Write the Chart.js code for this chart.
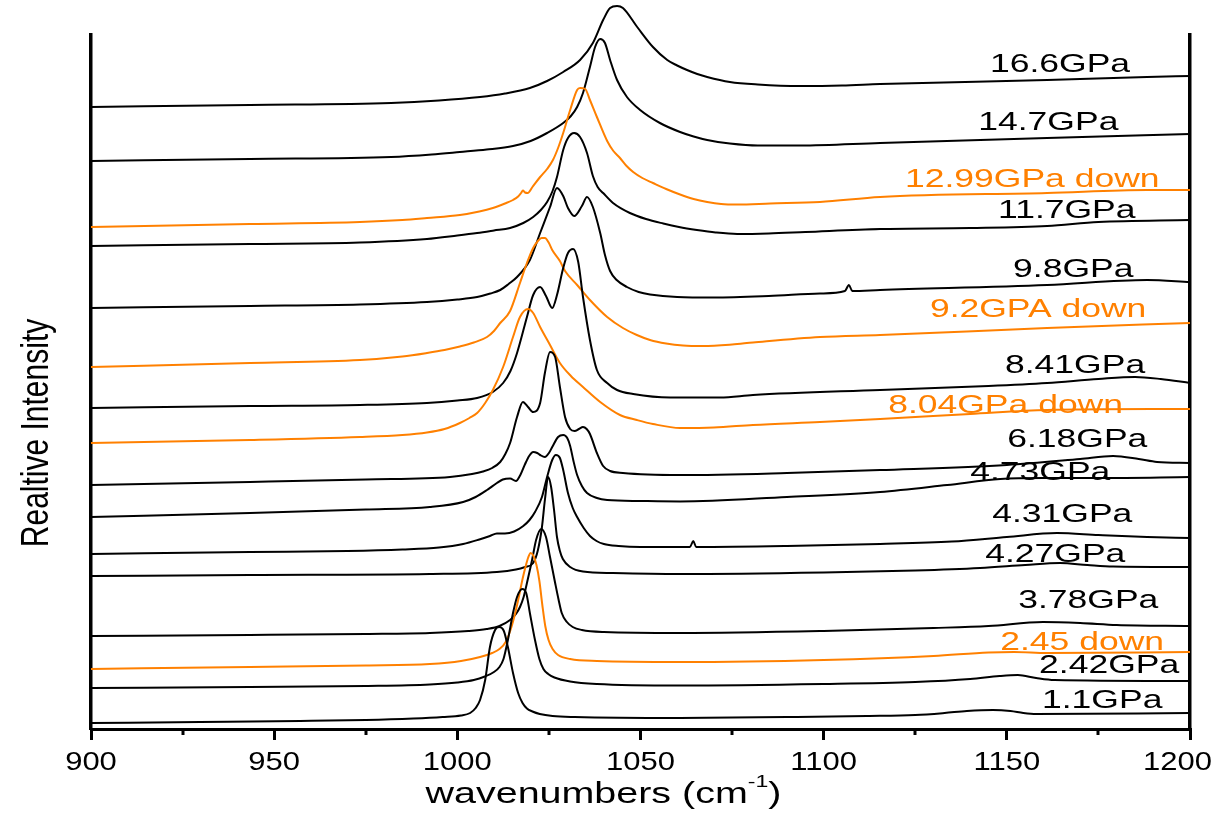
<!DOCTYPE html>
<html>
<head>
<meta charset="utf-8">
<script src="https://cdn.jsdelivr.net/npm/chart.js@4.4.0/dist/chart.umd.min.js"></script>
<style>
  html, body { margin: 0; padding: 0; background: #ffffff; }
  canvas { display: block; }
</style>
</head>
<body>
<canvas id="chart" width="1230" height="814"></canvas>
<script>
// Raman spectra recorded at increasing / decreasing pressure, stacked with offsets.
// Each point: [wavenumber (cm^-1), relative intensity (a.u., offset included)]
const s1_1 = [[900,6],[929.8,7],[957.1,8],[975,9],[988,10.5],[996,12],[1001,13.5],[1003.5,16],[1005,21],[1006.2,29],[1007.6,49],[1008.9,82],[1010.3,99],[1011.4,102],[1012.7,98],[1013.8,82],[1015.2,56],[1016.6,36],[1017.8,26],[1019,20.5],[1020.5,17.5],[1022.5,15],[1026,13],[1032,12],[1060.8,11],[1090,12],[1111.8,13],[1125,14],[1133,16],[1139.1,18],[1146.2,19],[1151,18],[1154.5,16],[1158,15],[1200,16]];
const s2_42 = [[900,41],[943.4,42],[975,43],[992.5,44.5],[1000,46.5],[1004.5,49],[1007.5,52.5],[1010,57],[1011.5,62],[1012.6,70],[1013.8,89],[1015.2,116],[1016.3,132],[1017.7,140],[1018.8,136],[1019.8,116],[1021.2,89],[1022.4,70],[1023.5,60],[1024.8,55],[1026.5,51.5],[1030.8,47.5],[1038.1,45],[1060.8,43.5],[1100,45],[1125,47],[1140,50],[1148,53],[1153,54],[1158,51],[1163,49],[1200,48]];
const s2_45d = [[900,60],[943.4,62],[975,63.5],[992.5,65],[1001,68],[1006.2,72],[1009.5,76],[1011.5,80],[1013.2,87],[1014.6,100],[1015.8,116],[1016.9,134],[1017.8,150],[1018.6,162],[1019.3,171],[1020.0,176],[1020.8,173],[1021.6,164],[1022.4,148],[1023.2,124],[1024.0,103],[1024.9,89],[1026,80],[1027.5,74],[1030.8,70],[1038.1,68],[1060.8,67],[1100,69],[1130,73],[1145,76.5],[1152,77],[1161.0,76],[1200,77]];
const s3_78 = [[900,93],[943.4,94],[975,95],[992.5,96],[1003,98],[1008,100],[1011.5,103],[1014.4,109],[1016,115],[1017.1,122],[1018.1,132],[1019.0,146],[1020.4,169],[1021.5,189],[1022.9,200],[1024.2,192],[1025.3,172],[1026.7,146],[1027.6,130],[1028.5,116],[1029.9,107],[1031.5,102],[1034,99],[1040,97],[1060.8,96],[1100,98],[1130,101],[1145,103],[1159.9,107],[1170,106],[1180,104],[1200,103]];
const s4_27 = [[900,153],[943.4,154],[992.5,155],[1010.8,157],[1016,159.5],[1018.5,162],[1020.7,166],[1022.0,179],[1023.1,202],[1023.9,229],[1024.8,252],[1025.6,242],[1026.4,219],[1027.2,192],[1028.0,178],[1028.8,170],[1030.8,162],[1034.3,157.5],[1042.5,156],[1060.8,155],[1100,156.5],[1125,158.5],[1142.7,161],[1155,164],[1164.5,166],[1172,164],[1179.0,162.5],[1200,162]];
const s4_31 = [[900,175],[943.4,177],[970,178],[985,179.5],[995,181.5],[1001.6,185],[1006,189.5],[1008.9,193],[1010.8,195.5],[1013.0,195.5],[1015.5,197.5],[1018,203],[1019.7,209],[1021.2,217],[1023.1,232],[1024.5,252],[1025.9,269],[1026.9,274],[1028.0,271],[1028.9,259],[1030.2,236],[1031.5,221],[1032.7,212],[1034.5,201],[1036.2,193],[1038,188],[1040,185],[1044,183],[1050,182],[1063.5,182],[1064.4,188],[1065.2,182],[1090,183],[1115.4,185],[1135,187.5],[1150,192],[1163.7,196],[1175,194],[1188.3,192],[1200,191]];
const s4_73 = [[900,212],[943.4,216],[975,219.5],[992.5,222],[1001.6,227],[1005,232],[1008.1,239],[1010.8,246],[1012.4,249.5],[1014.4,250.5],[1016.0,248],[1017.2,254],[1018.5,265],[1019.6,273],[1020.7,277],[1021.8,276],[1022.6,274],[1023.9,272],[1025.0,276],[1025.9,282],[1027.5,292],[1028.9,294],[1030.0,291],[1030.8,283],[1031.7,268],[1032.7,254],[1034.0,243],[1035.4,236],[1038.1,231],[1040.9,229],[1050,228],[1060.8,227.5],[1090,232],[1115.4,237],[1133.7,244],[1148.2,250],[1160,251],[1175.5,251],[1200,252]];
const s6_18 = [[900,244],[943.4,247],[975,249.5],[998.0,252],[1004,255],[1007.0,257.5],[1009.5,261],[1011.7,267],[1013.1,275],[1014.4,286],[1016.3,312],[1017.9,327],[1019.3,322],[1020.7,317],[1022.6,326],[1023.9,356],[1025.3,377],[1026.7,372],[1028.0,342],[1029.4,312],[1030.8,300],[1032.0,298],[1033.2,300],[1034.3,302],[1035.3,300],[1036.2,295],[1038.1,276],[1039.8,263],[1041.7,258],[1045.2,256],[1060.8,254],[1090,256],[1115.4,259],[1150,264],[1170.0,270],[1179.0,273],[1186,270],[1191.0,267],[1200,266]];
const s8_04d = [[900,286],[943.4,289],[973.4,292],[985,294],[991.7,296.5],[996.5,300],[1000.7,306],[1003.3,311],[1005.4,316],[1007.6,326],[1009.7,339],[1012.5,362],[1015.2,392],[1017.1,412],[1019.3,420],[1020.7,416],[1022.6,402],[1025.3,384],[1028.0,366],[1031,353],[1034.3,342],[1039.0,327],[1044.4,314],[1049,309],[1053.4,305],[1060.8,301],[1070,301.5],[1080.7,304],[1099.0,307],[1115.4,310],[1140,315],[1161.0,319],[1200,320]];
const s8_41 = [[900,321],[943.4,323],[973.4,324],[991.7,326],[1000,328.5],[1005.4,331],[1009.7,337],[1012.5,346],[1014.5,358],[1016.3,376],[1019.0,412],[1020.7,434],[1022.6,442],[1024.2,433],[1025.9,421],[1027.2,434],[1028.9,461],[1030.2,476],[1031.6,480],[1033.0,467],[1034.3,432],[1036.2,389],[1038.1,359],[1040.9,346],[1043.6,339],[1048,335],[1058.1,331.5],[1071.7,331.5],[1080.7,334],[1115.4,339],[1145,343],[1161.0,346],[1175,350],[1185,352],[1192,350],[1200,346]];
const s9_2d = [[900,362],[943.4,366],[973.4,369],[985,372.5],[991.7,376],[996.5,379],[1000.7,382.5],[1004.5,386.5],[1008.1,392],[1010,398],[1011.7,406],[1014.4,418],[1017.1,446],[1019.0,466],[1020.7,481],[1022.0,488],[1023.0,491],[1023.9,491],[1025.0,486],[1025.9,479],[1028.0,468],[1029.4,458],[1032.7,444],[1036.2,429],[1040.9,412],[1045.2,401],[1049,394],[1052.6,389],[1057,385.5],[1061.6,383.5],[1067.1,383],[1075,384.5],[1080.7,386.5],[1099.0,392],[1115.4,394],[1161.0,401],[1200,406]];
const s9_8 = [[900,421],[943.4,423],[973.4,424.5],[991.7,427],[1000,429.5],[1005.4,432],[1009,435.5],[1011.7,439],[1014,445],[1016.3,452],[1019.8,469],[1022.6,496],[1025.3,522],[1027.2,541],[1028.9,533],[1030.2,521],[1031.9,513],[1034.0,523],[1035.4,532],[1037.0,522],[1039.0,496],[1040.3,474],[1041.7,458],[1043.5,449],[1046.3,442],[1049.5,437],[1052.6,434.5],[1060,432],[1070,431.5],[1085,433],[1099.0,435.5],[1105.8,438],[1106.9,444],[1107.8,438],[1115.4,439],[1161.0,444],[1188.3,449],[1200,447]];
const s11_7 = [[900,483],[943.4,485],[973.4,486.5],[991.7,490],[1000,493.5],[1005.4,496],[1010,498.5],[1014.4,501],[1018,506],[1020.7,512],[1022.8,519],[1024.5,527],[1026,538],[1027.2,552],[1028.9,579],[1030.2,591],[1031.9,596],[1033.5,592],[1035.4,576],[1037.0,553],[1038.3,542],[1039.8,536],[1042.5,526],[1047.1,516],[1051.5,510],[1056.2,505.5],[1060.5,502],[1065.4,499],[1070.5,496.5],[1076.4,495],[1085,495.5],[1095,497],[1115.4,500],[1140,501],[1161.0,503],[1175,507],[1200,509]];
const s12_99d = [[900,502],[943.4,505],[973.4,507],[985,509],[991.7,511],[1000.7,514],[1006,517.5],[1009.7,521],[1013,525.5],[1015.2,529],[1016.6,532.5],[1017.4,536],[1017.9,538.5],[1018.5,536.5],[1019.2,536],[1020.5,542],[1022.6,552],[1024.5,560],[1026.1,569],[1027.5,581],[1028.9,596],[1030.8,619],[1032.7,639],[1033.5,641],[1034.9,640],[1036.2,629],[1038.1,612],[1040.9,588],[1042.6,578],[1044.4,571],[1046.2,563],[1048.0,557],[1050.5,551],[1053.4,546],[1057,540],[1060.8,534.5],[1064.5,530],[1068.2,527],[1072,525],[1076.4,524.5],[1085.4,525.5],[1099.0,527],[1115.4,532],[1161.0,536],[1188.3,539],[1200,539]];
const s14_7 = [[900,568],[943.4,570],[981.9,572],[993,574.5],[1000.7,577],[1008,579.5],[1015.2,583],[1020,588],[1024.5,596],[1028.9,606],[1031,613],[1032.7,622],[1034.3,636],[1036.2,662],[1037.6,682],[1039.0,690],[1040.3,686],[1041.7,669],[1043.6,649],[1046.3,632],[1049.9,619],[1055.3,606],[1060.8,597],[1064.5,592.5],[1068.2,589],[1074.4,585.5],[1082,583.5],[1093.6,583.5],[1115.4,586],[1161.0,591],[1200,595]];
const s16_6 = [[900,622],[943.4,624],[981.9,626],[995,628.5],[1006.2,632],[1013,635.5],[1019.8,641],[1024.5,648],[1028.9,657],[1033.5,669],[1037.0,686],[1039.8,709],[1041.7,721],[1043.6,723],[1045.2,721],[1049.1,702],[1053.4,682],[1057.3,669],[1060,663.5],[1062.7,659],[1065.5,655],[1068.2,652],[1074.4,647],[1082,644.5],[1093.6,643],[1105,643.5],[1115.4,645],[1161.0,649],[1188.3,652],[1200,653]];

const spectra = [s1_1, s2_42, s2_45d, s3_78, s4_27, s4_31, s4_73, s6_18, s8_04d, s8_41, s9_2d, s9_8, s11_7, s12_99d, s14_7, s16_6];
const pressureLabels = ['1.1GPa', '2.42GPa', '2.45 down', '3.78GPa', '4.27GPa', '4.31GPa', '4.73GPa', '6.18GPa',
  '8.04GPa down', '8.41GPa', '9.2GPA down', '9.8GPa', '11.7GPa', '12.99GPa down', '14.7GPa', '16.6GPa'];

// Axis range and tick spacing
const waveMin = 900, waveMax = 1200, waveStep = 50;
const intensityMin = 0, intensityMax = 694;

// Where each pressure tag sits (left edge wavenumber, baseline intensity)
const tagWave = [1159.6, 1158.8, 1148.2, 1153.1, 1144.1, 1146.0, 1140.0, 1150.1, 1117.6, 1149.5, 1129.0, 1151.7, 1147.6, 1122.2, 1142.2, 1145.4];
const tagLevel = [21, 56, 79, 121, 167, 207, 249, 282, 316, 356, 412, 452, 511, 542, 599, 657];

const BLACK = '#000000';
const ORANGE = '#ff8000';
const FONT = '"Liberation Sans", Arial, Helvetica, sans-serif';
const colorFor = label => label.includes('down') ? ORANGE : BLACK;

// Text drawn with a horizontal stretch factor
function stretchText(ctx, text, x, y, size, sx, align, color) {
  ctx.save();
  ctx.font = size + 'px ' + FONT;
  ctx.fillStyle = color;
  ctx.textAlign = 'left';
  ctx.textBaseline = 'alphabetic';
  const w = ctx.measureText(text).width * sx;
  const left = align === 'center' ? x - w / 2 : (align === 'right' ? x - w : x);
  ctx.translate(left, y);
  ctx.scale(sx, 1);
  ctx.fillText(text, 0, 0);
  ctx.restore();
  return w;
}
function textWidth(ctx, text, size, sx) {
  ctx.save();
  ctx.font = size + 'px ' + FONT;
  const w = ctx.measureText(text).width * sx;
  ctx.restore();
  return w;
}

const decorations = {
  id: 'decorations',
  afterDraw(chart) {
    const ctx = chart.ctx;
    const xs = chart.scales.x, ys = chart.scales.y;
    const area = chart.chartArea;
    ctx.save();

    // minor ticks between the labelled ones
    ctx.strokeStyle = BLACK;
    ctx.lineWidth = 3;
    for (let w = waveMin + waveStep / 2; w < waveMax; w += waveStep) {
      const px = Math.round(xs.getPixelForValue(w));
      ctx.beginPath();
      ctx.moveTo(px, area.bottom);
      ctx.lineTo(px, area.bottom + 6);
      ctx.stroke();
    }

    // tick labels
    xs.ticks.forEach(t => {
      const px = xs.getPixelForValue(t.value);
      const label = String(t.value);
      const w = textWidth(ctx, label, 25, 1.24);
      const cx = Math.min(px, chart.width - 18 - w / 2);
      stretchText(ctx, label, cx, area.bottom + 41, 25, 1.24, 'center', BLACK);
    });

    // x axis title with superscript
    const sx = 1.36;
    const mainA = 'wavenumbers (cm', sup = '-1', mainB = ')';
    const wA = textWidth(ctx, mainA, 29, sx);
    const wS = textWidth(ctx, sup, 17, sx);
    const wB = textWidth(ctx, mainB, 29, sx);
    const titleCenter = (area.left + area.right) / 2 - 37;
    let tx = titleCenter - (wA + wS + wB) / 2;
    const base = area.bottom + 74;
    stretchText(ctx, mainA, tx, base, 29, sx, 'left', BLACK); tx += wA;
    stretchText(ctx, sup, tx, base - 16, 17, sx, 'left', BLACK); tx += wS;
    stretchText(ctx, mainB, tx, base, 29, sx, 'left', BLACK);

    // y axis title, rotated
    ctx.save();
    ctx.translate(48, (area.top + area.bottom) / 2 + 51);
    ctx.scale(1.3, 1);
    ctx.rotate(-Math.PI / 2);
    ctx.font = '30px ' + FONT;
    ctx.fillStyle = BLACK;
    ctx.textAlign = 'center';
    ctx.textBaseline = 'alphabetic';
    ctx.fillText('Realtive Intensity', 0, 0);
    ctx.restore();

    // pressure tags next to each spectrum
    pressureLabels.forEach((label, i) => {
      const px = xs.getPixelForValue(tagWave[i]);
      const py = ys.getPixelForValue(tagLevel[i]);
      stretchText(ctx, label, px, py, 25, 1.42, 'left', colorFor(label));
    });

    ctx.restore();
  }
};

const datasets = spectra.map((pts, i) => ({
  label: pressureLabels[i],
  data: pts.map(p => ({ x: p[0], y: p[1] })),
  borderColor: colorFor(pressureLabels[i]),
  borderWidth: 2,
  pointRadius: 0,
  fill: false,
  cubicInterpolationMode: 'monotone',
  clip: false
}));

new Chart(document.getElementById('chart'), {
  type: 'line',
  data: { datasets },
  options: {
    responsive: false,
    animation: false,
    devicePixelRatio: 1,
    layout: { padding: { top: 35, left: 91, right: 40, bottom: 0 } },
    plugins: { legend: { display: false }, tooltip: { enabled: false } },
    scales: {
      x: {
        type: 'linear',
        min: waveMin,
        max: waveMax,
        position: 'bottom',
        ticks: { stepSize: waveStep, display: false },
        grid: { display: true, drawOnChartArea: false, drawTicks: true, tickLength: 11, tickWidth: 3, lineWidth: 3, color: BLACK, tickColor: BLACK },
        border: { display: true, width: 3, color: BLACK },
        afterFit: s => { s.height = 85; }
      },
      y: {
        type: 'linear',
        min: intensityMin,
        max: intensityMax,
        position: 'left',
        ticks: { display: false },
        grid: { display: false, drawTicks: false },
        border: { display: true, width: 3.5, color: BLACK },
        afterFit: s => { s.width = 0; }
      },
      y2: {
        type: 'linear',
        min: intensityMin,
        max: intensityMax,
        position: 'right',
        ticks: { display: false },
        grid: { display: false, drawTicks: false },
        border: { display: true, width: 3.5, color: BLACK },
        afterFit: s => { s.width = 0; }
      }
    }
  },
  plugins: [decorations]
});
</script>
</body>
</html>
